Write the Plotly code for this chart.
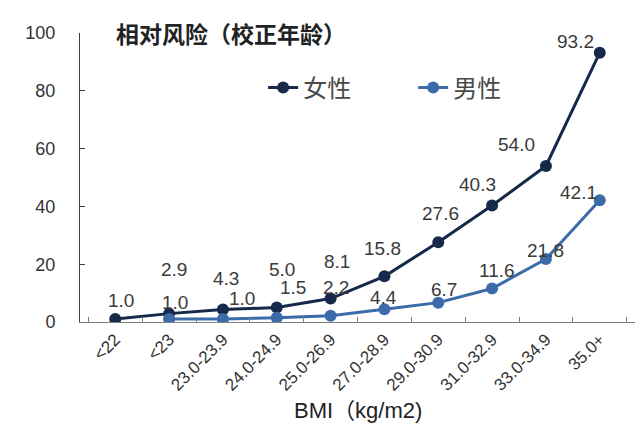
import plotly.graph_objects as go

# BMI groups and age-adjusted relative risk
categories = ["<22", "<23", "23.0-23.9", "24.0-24.9", "25.0-26.9",
              "27.0-28.9", "29.0-30.9", "31.0-32.9", "33.0-34.9", "35.0+"]
female = [1.0, 2.9, 4.3, 5.0, 8.1, 15.8, 27.6, 40.3, 54.0, 93.2]
male = [None, 1.0, 1.0, 1.5, 2.2, 4.4, 6.7, 11.6, 21.8, 42.1]

FEMALE_COLOR = "#16294a"
MALE_COLOR = "#3b6ba8"
LABEL_FONT = dict(family="Liberation Sans, Arial", size=19, color="#3a3a3a")

# label offsets (px) so value labels clear the lines and markers
female_dx = [6, 5, 3, 5, 6, -2, 2, -15, -29, -24]
female_dy = [19, 44, 31, 38, 37, 28, 29, 21, 21, 11]
male_dx = [0, 6, 19, 16, 5, -1, 6, 5, 0, -21]
male_dy = [0, 17, 21, 30, 28, 12, 13, 18, 9, 8]

fig = go.Figure()
fig.add_trace(go.Scatter(
    x=categories, y=female, name="女性", mode="lines+markers",
    line=dict(color=FEMALE_COLOR, width=3),
    marker=dict(color=FEMALE_COLOR, size=12),
))
fig.add_trace(go.Scatter(
    x=categories, y=male, name="男性", mode="lines+markers",
    line=dict(color=MALE_COLOR, width=3),
    marker=dict(color=MALE_COLOR, size=12),
))

annotations = []
for cat, v, dx, dy in zip(categories, female, female_dx, female_dy):
    annotations.append(dict(x=cat, y=v, text=f"{v:.1f}", showarrow=False,
                            xshift=dx, yshift=dy, font=LABEL_FONT))
for cat, v, dx, dy in zip(categories, male, male_dx, male_dy):
    if v is None:
        continue
    annotations.append(dict(x=cat, y=v, text=f"{v:.1f}", showarrow=False,
                            xshift=dx, yshift=dy, font=LABEL_FONT))

annotations.append(dict(
    xref="paper", yref="paper", x=0.062, y=1.0, xanchor="left", yanchor="middle",
    text="<b>相对风险（校正年龄）</b>", showarrow=False,
    font=dict(family="Noto Sans CJK SC", size=23, color="#222222"),
))
annotations.append(dict(
    xref="paper", yref="paper", x=0.5, y=-0.305, xanchor="center", yanchor="middle",
    text="BMI（kg/m2)", showarrow=False,
    font=dict(family="Liberation Sans, Noto Sans CJK SC", size=22, color="#222222"),
))
fig.update_layout(annotations=annotations)

fig.update_layout(
    width=642, height=432,
    margin=dict(l=80, r=7, t=33, b=110),
    paper_bgcolor="white", plot_bgcolor="white",
    showlegend=True,
    legend=dict(
        orientation="h", x=0.33, y=0.81, xanchor="left", yanchor="middle",
        font=dict(family="Noto Sans CJK SC", size=24, color="#4a4a4a"),
        entrywidth=105, bgcolor="rgba(0,0,0,0)",
    ),
    font=dict(family="Liberation Sans, Arial", color="#333333"),
)
fig.update_xaxes(
    type="category", showline=True, linecolor="#808080", linewidth=1,
    ticks="inside", ticklen=5, tickcolor="#808080", tickson="boundaries",
    tickangle=-45, tickfont=dict(size=17, color="#333333"),
    showgrid=False, zeroline=False,
)
fig.update_yaxes(
    range=[0, 100], dtick=20, showline=True, linecolor="#404040", linewidth=1,
    ticks="inside", ticklen=5, tickcolor="#404040", ticklabelstandoff=20,
    tickfont=dict(size=18, color="#333333"),
    showgrid=False, zeroline=False,
)

fig.write_html("out.html")
